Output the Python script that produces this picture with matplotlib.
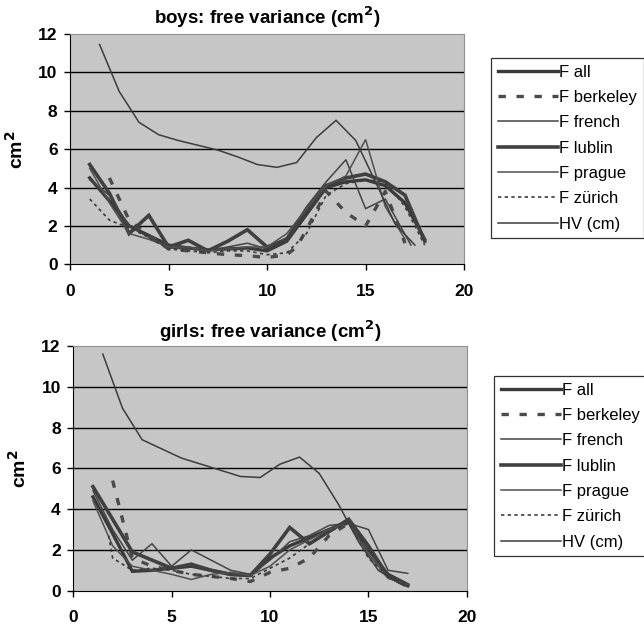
import matplotlib
matplotlib.use("Agg")
import matplotlib.pyplot as plt
from matplotlib.lines import Line2D

plt.rcParams['font.family'] = ['Liberation Sans', 'DejaVu Sans']

series_names = ["F all", "F berkeley", "F french", "F lublin", "F prague", "F zürich", "HV (cm)"]

# ---------------- boys ----------------
boys_x = [1, 2, 3, 4, 5, 6, 7, 8, 9, 10, 11, 12, 13, 14, 15, 16, 17, 18]
boys_all = [4.5, 3.3, 2.0, 1.5, 1.0, 0.85, 0.75, 0.8, 0.85, 0.7, 1.2, 2.6, 4.0, 4.3, 4.4, 4.1, 3.2, 1.3]
boys_lublin = [5.2, 3.7, 1.6, 2.55, 0.9, 1.25, 0.7, 1.2, 1.8, 0.9, 1.3, 2.8, 4.1, 4.5, 4.7, 4.3, 3.6, 1.2]
boys_berkeley_x = [2, 3, 4, 5, 6, 7, 8, 9, 10, 11, 11.5, 12, 12.5, 13, 14, 15, 16, 17]
boys_berkeley = [4.5, 2.3, 1.5, 0.8, 0.7, 0.6, 0.5, 0.45, 0.35, 0.5, 0.9, 1.8, 2.8, 3.8, 2.7, 2.0, 3.8, 1.1]
boys_french_x = [1, 2, 3, 4, 5, 6, 7, 8, 9, 10, 11, 12, 13, 14, 15, 16, 17.3]
boys_french = [4.4, 3.6, 2.0, 1.4, 0.85, 0.8, 0.7, 0.9, 1.1, 0.8, 1.4, 3.0, 4.3, 5.45, 2.9, 3.4, 1.0]
boys_prague_x = [1, 2, 3, 4, 5, 6, 7, 8, 9, 10, 11, 12, 13, 14, 15, 16, 17]
boys_prague = [5.0, 3.2, 1.6, 1.3, 0.9, 0.9, 0.7, 0.8, 0.9, 0.9, 1.6, 2.9, 4.1, 4.6, 6.5, 3.0, 1.3]
boys_zurich = [3.4, 2.3, 1.9, 1.4, 0.8, 0.7, 0.6, 0.7, 0.7, 0.5, 0.6, 1.6, 3.6, 4.2, 4.4, 4.3, 3.0, 1.0]
boys_hv_x = [1.5, 2.5, 3.5, 4.5, 5.5, 6.5, 7.5, 8.5, 9.5, 10.5, 11.5, 12.5, 13.5, 14.5, 15.5, 16.5, 17.5]
boys_hv = [11.45, 9.0, 7.4, 6.75, 6.45, 6.2, 5.95, 5.6, 5.2, 5.05, 5.3, 6.6, 7.5, 6.45, 4.3, 2.1, 1.0]

# ---------------- girls ----------------
girls_x = [1, 2, 3, 4, 5, 6, 7, 8, 9, 10, 11, 12, 13, 14, 15, 16, 17]
girls_all = [4.6, 2.8, 0.95, 1.0, 1.1, 1.2, 1.0, 0.8, 0.75, 1.6, 2.2, 2.6, 3.0, 3.4, 2.0, 0.8, 0.3]
girls_lublin = [5.1, 3.5, 1.9, 1.5, 1.1, 1.3, 1.0, 0.8, 0.75, 1.8, 3.1, 2.3, 2.9, 3.5, 2.2, 0.7, 0.25]
girls_berkeley_x = [2, 3, 4, 5, 6, 7, 8, 9, 10, 11, 12, 13, 14, 15, 16, 17]
girls_berkeley = [5.4, 1.6, 1.2, 1.0, 0.8, 0.7, 0.6, 0.45, 0.9, 1.1, 1.6, 2.7, 3.3, 2.0, 0.7, 0.2]
girls_french = [4.9, 3.0, 1.5, 2.3, 1.2, 2.0, 1.5, 1.0, 0.8, 1.5, 2.4, 2.7, 3.2, 3.3, 3.0, 1.0, 0.85]
girls_prague = [4.4, 2.2, 1.2, 1.0, 0.8, 0.55, 0.8, 0.9, 0.75, 1.2, 2.0, 2.5, 3.0, 3.3, 1.8, 0.6, 0.3]
girls_zurich_x = [1.8, 2, 3, 4, 5, 6, 7, 8, 9, 10, 11, 12, 13, 14, 15, 16, 17]
girls_zurich = [2.7, 1.6, 1.0, 1.1, 1.0, 0.8, 0.7, 0.6, 0.6, 1.1, 1.6, 2.3, 2.9, 3.3, 1.6, 0.7, 0.3]
girls_hv_x = [1.5, 2.5, 3.5, 4.5, 5.5, 6.5, 7.5, 8.5, 9.5, 10.5, 11.5, 12.5, 13.5, 14.5, 15.5, 16.5, 17]
girls_hv = [11.6, 8.95, 7.4, 6.95, 6.5, 6.2, 5.9, 5.6, 5.55, 6.2, 6.55, 5.75, 4.2, 2.4, 1.0, 0.4, 0.2]

x_ticks = [0, 5, 10, 15, 20]
y_ticks = [0, 2, 4, 6, 8, 10, 12]

styles = {
    "F all": dict(color="#3a3a3a", lw=2.4, ls="-"),
    "F berkeley": dict(color="#4a4a4a", lw=2.4, ls=(0, (2.2, 3.2))),
    "F french": dict(color="#444444", lw=1.1, ls="-"),
    "F lublin": dict(color="#404040", lw=2.6, ls="-"),
    "F prague": dict(color="#505050", lw=1.1, ls="-"),
    "F zürich": dict(color="#3c3c3c", lw=1.2, ls=(0, (2, 2))),
    "HV (cm)": dict(color="#3c3c3c", lw=1.1, ls="-"),
}

fig = plt.figure(figsize=(6.44, 6.27), dpi=100)

def draw(ax, data, title, title_pad):
    ax.set_facecolor("#c6c6c6")
    for name, (xs, ys) in data.items():
        ax.plot(xs, ys, **styles[name], solid_joinstyle="miter")
    ax.set_xlim(0, 20)
    ax.set_ylim(0, 12)
    ax.set_xticks(x_ticks)
    ax.set_yticks(y_ticks)
    for yv in y_ticks[1:-1]:
        ax.axhline(yv, color="black", lw=1.0, zorder=0.5)
    for lab in ax.get_xticklabels() + ax.get_yticklabels():
        lab.set_fontweight("bold")
        lab.set_fontsize(12.5)
    ax.tick_params(direction="out", length=4, width=1, colors="black", pad=5)
    ax.tick_params(axis="x", pad=10)
    ax.spines["left"].set_color("black")
    ax.spines["bottom"].set_color("black")
    ax.spines["top"].set_color("#909090")
    ax.spines["right"].set_color("#909090")
    ax.set_title(title, fontsize=13.5, fontweight="bold", pad=title_pad)
    ax.set_ylabel("cm$^\\mathbf{2}$", fontsize=14, fontweight="bold", labelpad=8)

ax1 = fig.add_axes([0.1087, 0.5785, 0.612, 0.3673])
draw(ax1, {
    "F all": (boys_x, boys_all),
    "F berkeley": (boys_berkeley_x, boys_berkeley),
    "F french": (boys_french_x, boys_french),
    "F lublin": (boys_x, boys_lublin),
    "F prague": (boys_prague_x, boys_prague),
    "F zürich": (boys_x, boys_zurich),
    "HV (cm)": (boys_hv_x, boys_hv),
}, "boys: free variance (cm$^\\mathbf{2}$)", 7)

ax2 = fig.add_axes([0.1138, 0.0579, 0.611, 0.3904])
draw(ax2, {
    "F all": (girls_x, girls_all),
    "F berkeley": (girls_berkeley_x, girls_berkeley),
    "F french": (girls_x, girls_french),
    "F lublin": (girls_x, girls_lublin),
    "F prague": (girls_x, girls_prague),
    "F zürich": (girls_zurich_x, girls_zurich),
    "HV (cm)": (girls_hv_x, girls_hv),
}, "girls: free variance (cm$^\\mathbf{2}$)", 6)

handles = [Line2D([], [], **styles[n]) for n in series_names]

for ax, left, top in ((ax1, 491 / 644, 58 / 627), (ax2, 494 / 644, 376 / 627)):
    leg = fig.legend(handles, series_names, loc="upper left",
                     bbox_to_anchor=(left, 1 - top), fontsize=12,
                     handlelength=3.6, handletextpad=0.1, labelspacing=0.62,
                     borderpad=0.4, borderaxespad=0, frameon=True, fancybox=False)
    leg.get_frame().set_edgecolor("black")
    leg.get_frame().set_linewidth(0.9)

fig.savefig("out.png", dpi=100, facecolor="white")
